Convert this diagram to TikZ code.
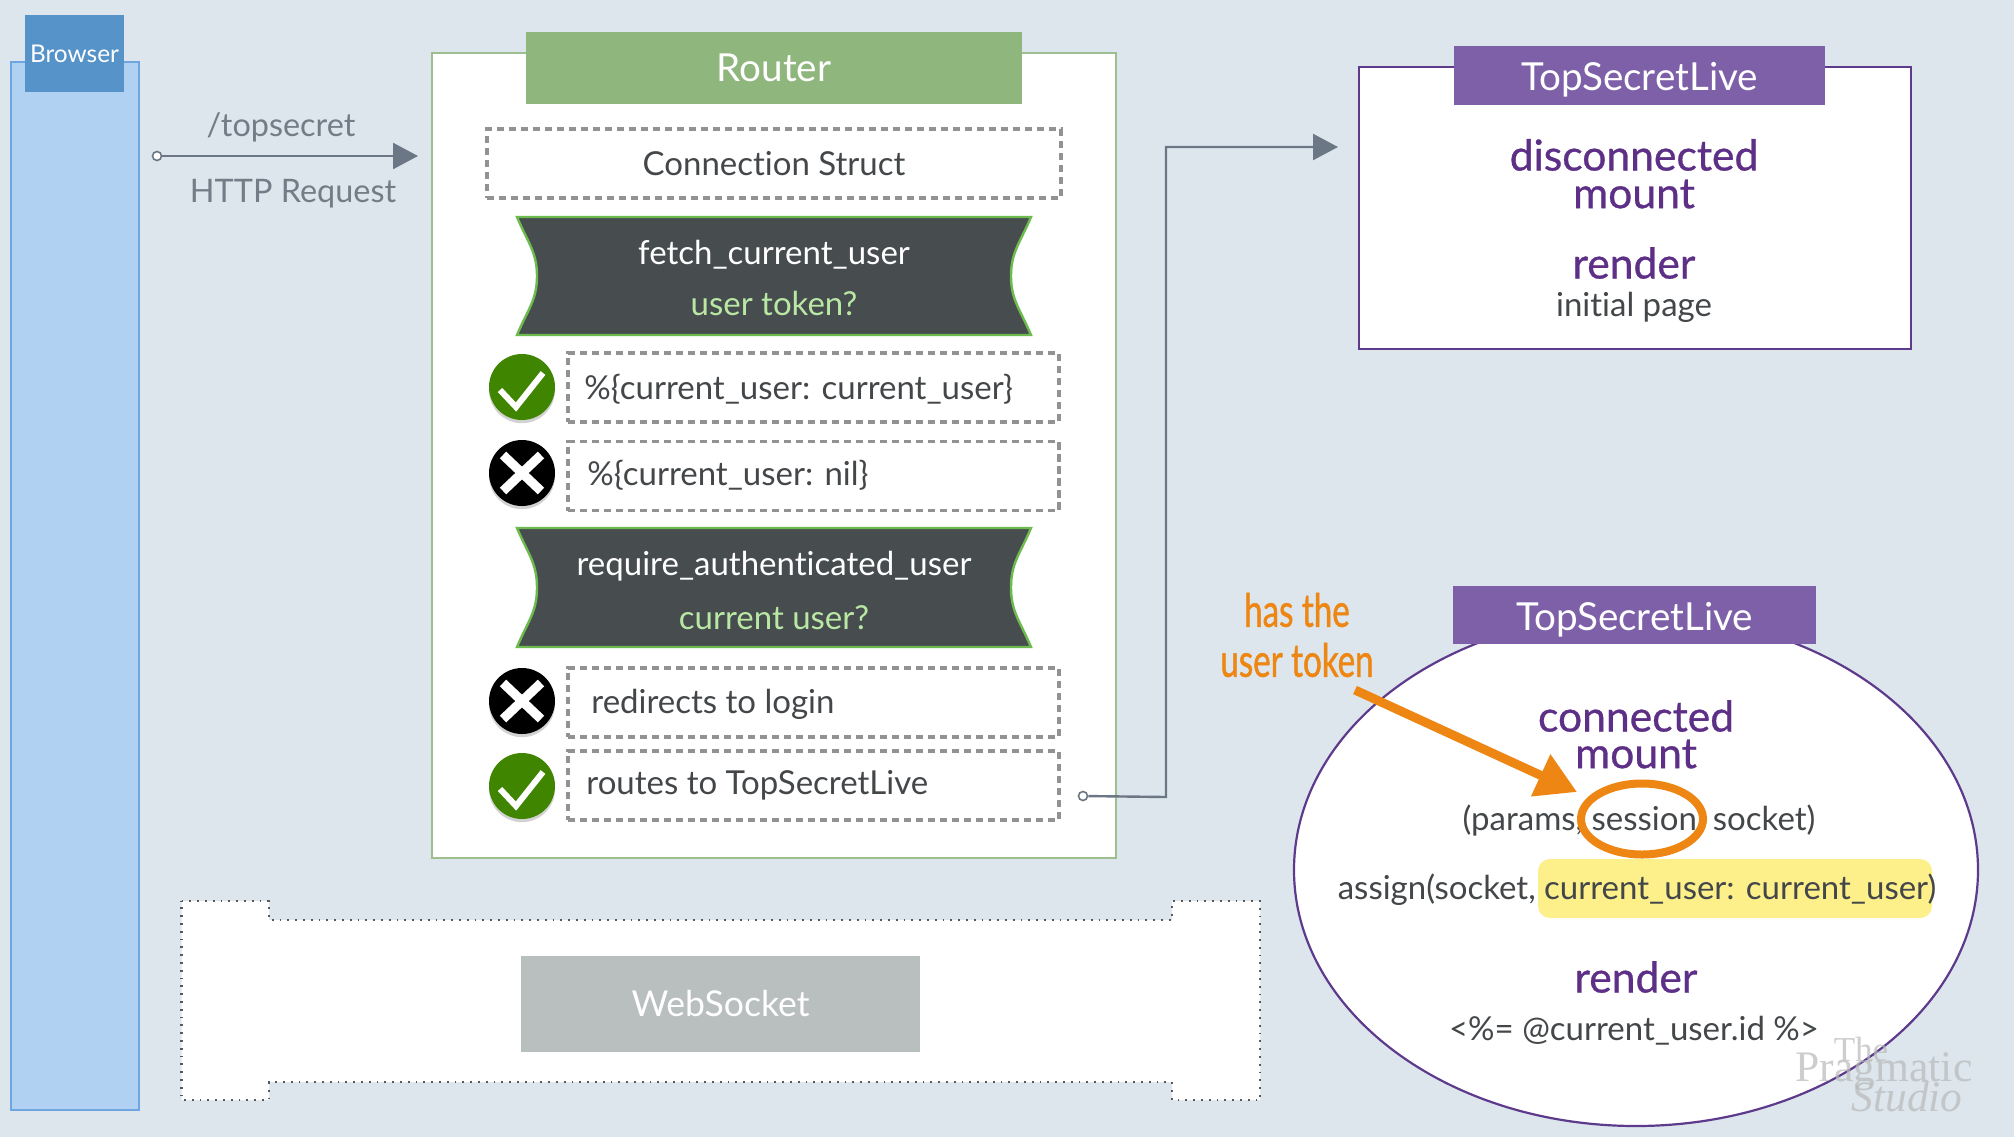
\documentclass[tikz,border=0pt]{standalone}
\usepackage{fontspec}
\setmainfont[Ligatures=NoCommon]{Lato}
\newfontfamily\medfont[FakeBold=0.7,Ligatures=NoCommon]{Lato}
\newfontfamily\condfont[FakeStretch=0.72,FakeBold=1.0,Ligatures=NoCommon]{Lato}
\newfontfamily\wmfont{Liberation Serif}
\usetikzlibrary{arrows.meta,shadows,shapes.geometric}
\definecolor{bgc}{HTML}{DCE6EC}
\definecolor{browserfill}{HTML}{B0D1F2}
\definecolor{browserline}{HTML}{6FA5E0}
\definecolor{browserhead}{HTML}{5593C8}
\definecolor{routerhead}{HTML}{8FB67D}
\definecolor{routerline}{HTML}{9DBF8F}
\definecolor{bannerfill}{HTML}{474C4F}
\definecolor{bannerline}{HTML}{6DBB4E}
\definecolor{qgreen}{HTML}{B9E8A4}
\definecolor{lvhead}{HTML}{7D60A8}
\definecolor{lvline}{HTML}{5E3A8C}
\definecolor{lvtext}{HTML}{5E2F86}
\definecolor{orangec}{HTML}{EE8613}
\definecolor{yellowc}{HTML}{FDF08A}
\definecolor{greytext}{HTML}{727D87}
\definecolor{arrowc}{HTML}{6B7785}
\definecolor{darktext}{HTML}{444749}
\definecolor{okgreen}{HTML}{3F8500}
\definecolor{dashc}{HTML}{909294}
\definecolor{sockc}{HTML}{B9BEBF}
\newcommand{\fs}[1]{\fontsize{#1}{#1}\selectfont}
\tikzset{
  wh/.style 2 args={minimum width=#1*0.5pt,minimum height=#2*0.5pt,inner sep=0pt,outer sep=0pt},
  headbox/.style={text=white,font=\fs{19.3}},
  lvhd/.style={headbox,text height=15pt,text depth=0pt},
  dashbox/.style={draw=dashc,fill=white,line width=1.6pt,dash pattern=on 3.6pt off 2.4pt},
  banner/.style={fill=bannerfill,draw=bannerline,line width=1.2pt},
  bodytext/.style={text=darktext,font=\fs{16.5},inner sep=0pt},
  bannertext/.style={font=\fs{16.5},inner sep=0pt},
  lvlabel/.style={text=lvtext,font=\medfont\fs{21.3},inner sep=0pt},
  flowline/.style={draw=arrowc,line width=1.2pt,-{Triangle[length=12.5pt,width=13pt]}},
  portdot/.style={circle,draw=arrowc,fill=white,line width=0.8pt,minimum size=4.5pt,inner sep=0pt},
  iconball/.style={circle,minimum size=33pt,inner sep=0pt,drop shadow={shadow xshift=0pt,shadow yshift=-1.6pt,opacity=0.35}},
  iconmark/.style={draw=white,line width=3pt},
  crossmark/.style={draw=white,line width=4.6pt},
  wm/.style={text=gray!55,opacity=0.7,inner sep=0pt}
}
\begin{document}
\begin{tikzpicture}[x=0.5pt,y=-0.5pt]
\useasboundingbox (0,0) rectangle (2014,1137);
\fill[bgc] (0,0) rectangle (2014,1137);

% Browser
\node[wh={128}{1048},fill=browserfill,draw=browserline,line width=1.3pt] (browser) at (75,586) {};
\node[wh={99}{77},fill=browserhead,text=white,font=\fs{12.2}] (browserhd) at (74.5,53.5) {Browser};

% Request arrow
\node[portdot] (reqstart) at (157,156) {};
\coordinate (reqend) at (418,156);
\draw[flowline] (reqstart) -- (reqend);
\node[text=greytext,font=\fs{16.2},inner sep=0pt] (reqpath) at (281,127) {/topsecret};
\node[text=greytext,font=\fs{16.2},inner sep=0pt] (reqkind) at (293,194) {HTTP Request};

% Router
\node[wh={684}{805},fill=white,draw=routerline,line width=1.2pt] (router) at (774,455.5) {};
\node[wh={496}{72},fill=routerhead,headbox] (routerhd) at (774,68) {Router};
\node[wh={574}{69},dashbox,bodytext] (conn) at (774,163.5) {Connection Struct};

\draw[banner] (517,217) -- (1031,217) .. controls (1020,243) and (1011,252) .. (1011,276)
  .. controls (1011,300) and (1020,309) .. (1031,335)
  -- (517,335) .. controls (528,309) and (537,300) .. (537,276)
  .. controls (537,252) and (528,243) .. (517,217) -- cycle;
\node[bannertext,text=white] (fetch) at (774,255) {fetch\_current\_user};
\node[bannertext,text=qgreen] (fetchq) at (774,303) {user token?};

\node[iconball,fill=okgreen] (ok1) at (522,387) {};
\draw[iconmark] (500,390) -- (516,407) -- (543,373);
\node[wh={491}{69},dashbox] (d1) at (813.5,387.5) {};
\node[bodytext,anchor=west] (d1t) at (584,389) {\%\{current\_user: current\_user\}};

\node[iconball,fill=black] (no1) at (522,473) {};
\draw[crossmark] (503,455) -- (541,491) (541,455) -- (503,491);
\node[wh={491}{69},dashbox] (d2) at (813.5,476) {};
\node[bodytext,anchor=west] (d2t) at (587,475) {\%\{current\_user: nil\}};

\draw[banner] (517,528) -- (1031,528) .. controls (1020,554) and (1011,563) .. (1011,587.5)
  .. controls (1011,612) and (1020,621) .. (1031,647)
  -- (517,647) .. controls (528,621) and (537,612) .. (537,587.5)
  .. controls (537,563) and (528,554) .. (517,528) -- cycle;
\node[bannertext,text=white] (auth) at (774,566) {require\_authenticated\_user};
\node[bannertext,text=qgreen] (authq) at (774,618) {current user?};

\node[iconball,fill=black] (no2) at (522,701) {};
\draw[crossmark] (503,683) -- (541,719) (541,683) -- (503,719);
\node[wh={491}{69},dashbox] (d3) at (813.5,702.5) {};
\node[bodytext,anchor=west] (d3t) at (591,704) {redirects to login};

\node[iconball,fill=okgreen] (ok2) at (522,786) {};
\draw[iconmark] (500,789) -- (516,806) -- (543,772);
\node[wh={491}{69},dashbox] (d4) at (813.5,785.5) {};
\node[bodytext,anchor=west] (d4t) at (586,785) {routes to TopSecretLive};

% Connector to disconnected view
\node[portdot] (routeend) at (1083,796) {};
\coordinate (liveend) at (1338,147);
\draw[flowline] (routeend) -- (1166,797) -- (1166,147) -- (liveend);

% Disconnected LiveView
\node[wh={552}{282},fill=white,draw=lvline,line width=1.1pt] (lv1) at (1635,208) {};
\node[wh={371}{59},fill=lvhead,lvhd] (lv1hd) at (1639.5,75.5) {TopSecretLive};
\node[lvlabel] (lv1a) at (1634,155) {disconnected};
\node[lvlabel] (lv1b) at (1634,194) {mount};
\node[lvlabel] (lv1c) at (1634,263) {render};
\node[bodytext] (lv1d) at (1634,307) {initial page};

% WebSocket band
\draw[fill=white,draw=black!65,line width=1.2pt,dash pattern=on 0.9pt off 3pt]
  (181.5,901) -- (269,901) -- (269,920) -- (1172,920) -- (1172,901) -- (1260,901)
  -- (1260,1100) -- (1172,1100) -- (1172,1082) -- (269,1082) -- (269,1100) -- (181.5,1100) -- cycle;
\node[wh={399}{96},fill=sockc,text=white,font=\fs{17.8}] (sock) at (720.5,1004) {WebSocket};

% Connected LiveView
\node[ellipse,wh={684}{512},fill=white,draw=lvline,line width=1.1pt] (lv2) at (1636,870) {};
\node[wh={363}{58},fill=lvhead,lvhd] (lv2hd) at (1634.5,615) {TopSecretLive};
\node[lvlabel] (lv2a) at (1636,716) {connected};
\node[lvlabel] (lv2b) at (1636,754) {mount};
\node[bodytext] (lv2c) at (1639,820.5) {(params, session, socket)};
\node[wh={394}{59},rounded corners=6pt,fill=yellowc] (hl) at (1735,888.5) {};
\node[bodytext] (lv2d) at (1637,890) {assign(socket, current\_user: current\_user)};
\node[lvlabel] (lv2e) at (1636,977) {render};
\node[bodytext] (lv2f) at (1634,1031) {<\%= @current\_user.id \%>};
\node[ellipse,wh={122}{71},draw=orangec,line width=4pt] (sess) at (1642,819) {};

% Annotation
\node[text=orangec,font=\condfont\fs{23},inner sep=0pt] (hasa) at (1297,610) {has the};
\node[text=orangec,font=\condfont\fs{23},inner sep=0pt] (hasb) at (1297,660) {user token};
\coordinate (notefrom) at (1355,690);
\coordinate (noteto) at (1577,792);
\draw[draw=orangec,line width=4.5pt,-{Triangle[length=20pt,width=22pt]}] (notefrom) -- (noteto);

% Watermark
\node[wm,font=\wmfont\fs{17.5}] (wma) at (1861,1050) {The};
\node[wm,font=\wmfont\fs{21.8}] (wmb) at (1884,1072) {Pragmatic};
\node[wm,font=\wmfont\itshape\fs{21.7}] (wmc) at (1907,1097) {Studio};
\end{tikzpicture}
\end{document}
